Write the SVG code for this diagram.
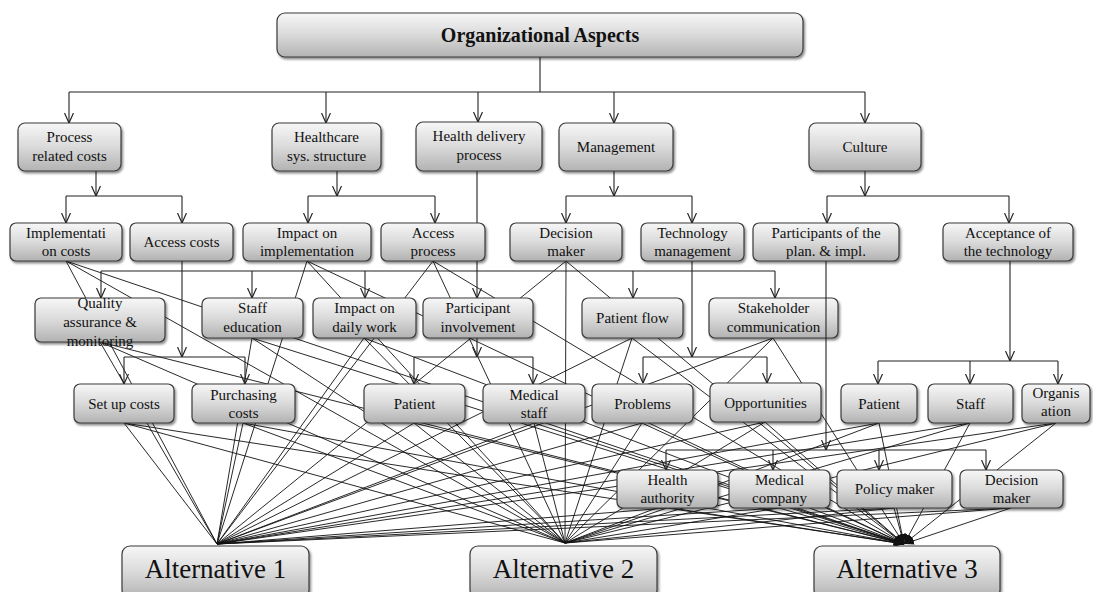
<svg xmlns="http://www.w3.org/2000/svg" width="1093" height="592" viewBox="0 0 1093 592" font-family="'Liberation Serif', 'Times New Roman', serif">
<defs>
<linearGradient id="g" x1="0" y1="0" x2="0" y2="1">
<stop offset="0" stop-color="#f7f7f7"/><stop offset="0.5" stop-color="#dadada"/><stop offset="1" stop-color="#b2b2b2"/>
</linearGradient>
<filter id="sh" x="-10%" y="-10%" width="130%" height="140%"><feDropShadow dx="1.5" dy="2" stdDeviation="1" flood-color="#000" flood-opacity="0.45"/></filter>
<marker id="ar" viewBox="0 0 10 10" refX="10" refY="5" markerWidth="10" markerHeight="10" markerUnits="userSpaceOnUse" orient="auto"><path d="M0,0.5 L10,5 L0,9.5" fill="none" stroke="#222" stroke-width="1.2"/></marker>
<marker id="fa" viewBox="0 0 10 10" refX="10" refY="5" markerWidth="10" markerHeight="10" markerUnits="userSpaceOnUse" orient="auto"><path d="M0,1 L10,5 L0,9 z" fill="#111"/></marker>
<style>
.b{fill:url(#g);stroke:#3a3a3a;stroke-width:1.2;filter:url(#sh)}
.t{font-family:"Liberation Serif","Times New Roman",serif;font-size:15px;fill:#111;text-anchor:middle}
.big{font-size:27px}
.ttl{font-size:20px;font-weight:bold}
.c{stroke:#222;stroke-width:1.1;fill:none}
.ca{stroke:#222;stroke-width:1.1;fill:none;marker-end:url(#ar)}
.f{stroke:#111;stroke-width:0.9;fill:none;marker-end:url(#fa)}
</style>
</defs>
<rect width="1093" height="592" fill="#fff"/>
<g id="connectors">
<g id="alt-links">
<path class="f" d="M66,261L217,544M66,261L565,543M66,261L904,544"/>
<path class="f" d="M307,261L217,544M307,261L565,543M307,261L904,544"/>
<path class="f" d="M433,261L217,544M433,261L565,543M433,261L904,544"/>
<path class="f" d="M566,261L217,544M566,261L565,543M566,261L904,544"/>
<path class="f" d="M100,342L217,544M100,342L565,543M100,342L904,544"/>
<path class="f" d="M252,338L217,544M252,338L565,543M252,338L904,544"/>
<path class="f" d="M364,338L217,544M364,338L565,543M364,338L904,544"/>
<path class="f" d="M632,338L217,544M632,338L565,543M632,338L904,544"/>
<path class="f" d="M773,338L217,544M773,338L565,543M773,338L904,544"/>
<path class="f" d="M124,423L217,544M124,423L565,543M124,423L904,544"/>
<path class="f" d="M243,423L217,544M243,423L565,543M243,423L904,544"/>
<path class="f" d="M414,423L217,544M414,423L565,543M414,423L904,544"/>
<path class="f" d="M534,423L217,544M534,423L565,543M534,423L904,544"/>
<path class="f" d="M642,423L217,544M642,423L565,543M642,423L904,544"/>
<path class="f" d="M765,422L217,544M765,422L565,543M765,422L904,544"/>
<path class="f" d="M879,423L217,544M879,423L565,543M879,423L904,544"/>
<path class="f" d="M970,423L217,544M970,423L565,543M970,423L904,544"/>
<path class="f" d="M1056,423L217,544M1056,423L565,543M1056,423L904,544"/>
<path class="f" d="M667,508L217,544M667,508L565,543M667,508L904,544"/>
<path class="f" d="M779,508L217,544M779,508L565,543M779,508L904,544"/>
<path class="f" d="M894,508L217,544M894,508L565,543M894,508L904,544"/>
<path class="f" d="M1011,508L217,544M1011,508L565,543M1011,508L904,544"/>
</g>
<g id="tree">
<path class="c" d="M540,57V92M69,92H865"/>
<path class="ca" d="M69,92V123"/><path class="ca" d="M326,92V123"/><path class="ca" d="M478,92V122"/><path class="ca" d="M614,92V123"/><path class="ca" d="M865,92V123"/>
<path class="ca" d="M96,171V196"/><path class="c" d="M66,196H182"/><path class="ca" d="M66,196V223"/><path class="ca" d="M182,196V223"/>
<path class="ca" d="M337,171V196"/><path class="c" d="M308,196H435"/><path class="ca" d="M308,196V223"/><path class="ca" d="M435,196V223"/>
<path class="ca" d="M477,171V298"/><path class="c" d="M101,271H775"/><path class="ca" d="M101,271V298"/><path class="ca" d="M252,271V298"/><path class="ca" d="M365,271V298"/><path class="ca" d="M633,271V298"/><path class="ca" d="M775,271V298"/>
<path class="ca" d="M614,171V196"/><path class="c" d="M566,196H692"/><path class="ca" d="M566,196V223"/><path class="ca" d="M692,196V223"/>
<path class="ca" d="M865,171V196"/><path class="c" d="M827,196H1009"/><path class="ca" d="M827,196V223"/><path class="ca" d="M1009,196V223"/>
<path class="ca" d="M182,261V357"/><path class="c" d="M124,357H245"/><path class="ca" d="M124,357V384"/><path class="ca" d="M245,357V384"/>
<path class="ca" d="M477,338V357"/><path class="c" d="M414,357H533"/><path class="ca" d="M414,357V384"/><path class="ca" d="M533,357V384"/>
<path class="ca" d="M692,261V357"/><path class="c" d="M643,357H767"/><path class="ca" d="M643,357V383"/><path class="ca" d="M767,357V383"/>
<path class="ca" d="M1010,261V361"/><path class="c" d="M878,361H1058"/><path class="ca" d="M878,361V384"/><path class="ca" d="M970,361V384"/><path class="ca" d="M1058,361V384"/>
<path class="c" d="M666,450H986"/><path class="ca" d="M666,450V470"/><path class="ca" d="M773,450V470"/><path class="ca" d="M879,450V470"/><path class="ca" d="M986,450V470"/>
</g>
</g>
<g id="n-org"><rect class="b" x="277" y="13" width="526" height="44" rx="8"/><text class="t ttl" x="540" y="42">Organizational Aspects</text></g>
<g id="n-prc"><rect class="b" x="18" y="123" width="103" height="48" rx="7"/><text class="t" x="69.5" y="142">Process</text><text class="t" x="69.5" y="161">related costs</text></g>
<g id="n-hss"><rect class="b" x="272" y="123" width="109" height="48" rx="7"/><text class="t" x="326.5" y="142">Healthcare</text><text class="t" x="326.5" y="161">sys. structure</text></g>
<g id="n-hdp"><rect class="b" x="416" y="122" width="126" height="49" rx="7"/><text class="t" x="479" y="141">Health delivery</text><text class="t" x="479" y="160">process</text></g>
<g id="n-mgt"><rect class="b" x="559" y="123" width="114" height="48" rx="7"/><text class="t" x="616" y="152">Management</text></g>
<g id="n-cul"><rect class="b" x="809" y="123" width="112" height="48" rx="7"/><text class="t" x="865" y="152">Culture</text></g>
<g id="n-ic"><rect class="b" x="10" y="223" width="112" height="38" rx="6"/><text class="t" x="66" y="238">Implementati</text><text class="t" x="66" y="256">on costs</text></g>
<g id="n-ac"><rect class="b" x="130" y="223" width="103" height="38" rx="6"/><text class="t" x="181.5" y="247">Access costs</text></g>
<g id="n-ii"><rect class="b" x="243" y="223" width="128" height="38" rx="6"/><text class="t" x="307" y="238">Impact on</text><text class="t" x="307" y="256">implementation</text></g>
<g id="n-ap"><rect class="b" x="381" y="223" width="104" height="38" rx="6"/><text class="t" x="433" y="238">Access</text><text class="t" x="433" y="256">process</text></g>
<g id="n-dm"><rect class="b" x="510" y="223" width="112" height="38" rx="6"/><text class="t" x="566" y="238">Decision</text><text class="t" x="566" y="256">maker</text></g>
<g id="n-tm"><rect class="b" x="641" y="223" width="103" height="38" rx="6"/><text class="t" x="692.5" y="238">Technology</text><text class="t" x="692.5" y="256">management</text></g>
<g id="n-pp"><rect class="b" x="753" y="223" width="146" height="38" rx="6"/><text class="t" x="826" y="238">Participants of the</text><text class="t" x="826" y="256">plan. &amp; impl.</text></g>
<g id="n-at"><rect class="b" x="943" y="223" width="130" height="38" rx="6"/><text class="t" x="1008" y="238">Acceptance of</text><text class="t" x="1008" y="256">the technology</text></g>
<g id="n-qa"><rect class="b" x="35" y="298" width="130" height="44" rx="6"/><text class="t" x="100" y="308">Quality</text><text class="t" x="100" y="327">assurance &amp;</text><text class="t" x="100" y="346">monitoring</text></g>
<g id="n-se"><rect class="b" x="202" y="298" width="101" height="40" rx="6"/><text class="t" x="252.5" y="313">Staff</text><text class="t" x="252.5" y="332">education</text></g>
<g id="n-id"><rect class="b" x="313" y="298" width="103" height="40" rx="6"/><text class="t" x="364.5" y="313">Impact on</text><text class="t" x="364.5" y="332">daily work</text></g>
<g id="n-pi"><rect class="b" x="423" y="298" width="110" height="40" rx="6"/><text class="t" x="478" y="313">Participant</text><text class="t" x="478" y="332">involvement</text></g>
<g id="n-pf"><rect class="b" x="582" y="298" width="101" height="40" rx="6"/><text class="t" x="632.5" y="323">Patient flow</text></g>
<g id="n-sc"><rect class="b" x="709" y="298" width="129" height="40" rx="6"/><text class="t" x="773.5" y="313">Stakeholder</text><text class="t" x="773.5" y="332">communication</text></g>
<g id="n-su"><rect class="b" x="74" y="384" width="100" height="39" rx="6"/><text class="t" x="124" y="409">Set up costs</text></g>
<g id="n-pc"><rect class="b" x="192" y="384" width="103" height="39" rx="6"/><text class="t" x="243.5" y="400">Purchasing</text><text class="t" x="243.5" y="418">costs</text></g>
<g id="n-pa"><rect class="b" x="364" y="384" width="101" height="39" rx="6"/><text class="t" x="414.5" y="409">Patient</text></g>
<g id="n-ms"><rect class="b" x="483" y="384" width="102" height="39" rx="6"/><text class="t" x="534" y="400">Medical</text><text class="t" x="534" y="418">staff</text></g>
<g id="n-pr"><rect class="b" x="592" y="384" width="101" height="39" rx="6"/><text class="t" x="642.5" y="409">Problems</text></g>
<g id="n-op"><rect class="b" x="710" y="383" width="111" height="39" rx="6"/><text class="t" x="765.5" y="408">Opportunities</text></g>
<g id="n-pa2"><rect class="b" x="841" y="384" width="76" height="39" rx="6"/><text class="t" x="879" y="409">Patient</text></g>
<g id="n-st"><rect class="b" x="928" y="384" width="85" height="39" rx="6"/><text class="t" x="970.5" y="409">Staff</text></g>
<g id="n-or"><rect class="b" x="1022" y="384" width="68" height="39" rx="6"/><text class="t" x="1056" y="398">Organis</text><text class="t" x="1056" y="416">ation</text></g>
<g id="pp-stem"><path class="ca" d="M826,261V450"/></g>
<g id="n-ha"><rect class="b" x="617" y="470" width="101" height="38" rx="6"/><text class="t" x="667.5" y="485">Health</text><text class="t" x="667.5" y="503">authority</text></g>
<g id="n-mc"><rect class="b" x="729" y="470" width="101" height="38" rx="6"/><text class="t" x="779.5" y="485">Medical</text><text class="t" x="779.5" y="503">company</text></g>
<g id="n-pm"><rect class="b" x="837" y="470" width="115" height="38" rx="6"/><text class="t" x="894.5" y="494">Policy maker</text></g>
<g id="n-dm2"><rect class="b" x="960" y="470" width="103" height="38" rx="6"/><text class="t" x="1011.5" y="485">Decision</text><text class="t" x="1011.5" y="503">maker</text></g>
<g id="n-a1"><rect class="b" x="122" y="546" width="187" height="52" rx="8"/><text class="t big" x="215.5" y="578">Alternative 1</text></g>
<g id="n-a2"><rect class="b" x="470" y="546" width="187" height="52" rx="8"/><text class="t big" x="563.5" y="578">Alternative 2</text></g>
<g id="n-a3"><rect class="b" x="814" y="546" width="186" height="52" rx="8"/><text class="t big" x="907" y="578">Alternative 3</text></g>
</svg>
